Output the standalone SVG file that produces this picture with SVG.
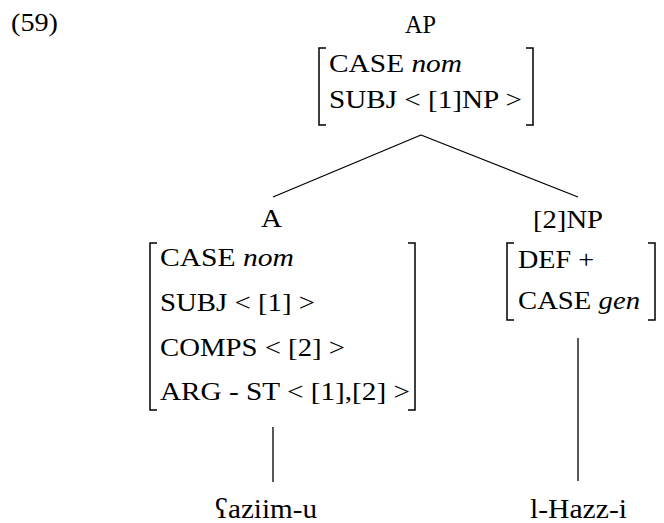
<svg xmlns="http://www.w3.org/2000/svg" width="664" height="523" viewBox="0 0 664 523">
<style>
text{font-family:"Liberation Serif","Times New Roman",serif;font-size:26px;fill:#000}
.it{font-style:italic}
.wd{font-size:28px}
.br{fill:none;stroke:#000;stroke-width:1.5}
.ln{stroke:#000;stroke-width:1.3;fill:none}
</style>
<text x="11" y="31" textLength="47" lengthAdjust="spacingAndGlyphs">(59)</text>
<g id="AP">
<text x="405" y="33" textLength="31" lengthAdjust="spacingAndGlyphs">AP</text>
<path class="br" d="M326,48 H319 V125 H326 M526,48 H533 V125 H526"/>
<text x="329" y="72" textLength="133" lengthAdjust="spacingAndGlyphs">CASE <tspan class="it">nom</tspan></text>
<text x="329" y="108" textLength="193" lengthAdjust="spacingAndGlyphs">SUBJ &lt; [1]NP &gt;</text>
</g>
<g id="A">
<text x="261" y="227" textLength="21" lengthAdjust="spacingAndGlyphs">A</text>
<path class="br" d="M157,243 H150 V410 H157 M408,243 H415 V410 H408"/>
<text x="160" y="266" textLength="134" lengthAdjust="spacingAndGlyphs">CASE <tspan class="it">nom</tspan></text>
<text x="160" y="311" textLength="155" lengthAdjust="spacingAndGlyphs">SUBJ &lt; [1] &gt;</text>
<text x="160" y="356" textLength="185" lengthAdjust="spacingAndGlyphs">COMPS &lt; [2] &gt;</text>
<text x="160" y="400" textLength="250" lengthAdjust="spacingAndGlyphs">ARG - ST &lt; [1],[2] &gt;</text>
</g>
<g id="NP">
<text x="533" y="228" textLength="70" lengthAdjust="spacingAndGlyphs">[2]NP</text>
<path class="br" d="M514,243 H507 V320 H514 M648,243 H655 V320 H648"/>
<text x="518" y="268" textLength="76" lengthAdjust="spacingAndGlyphs">DEF +</text>
<text x="518" y="309" textLength="122" lengthAdjust="spacingAndGlyphs">CASE <tspan class="it">gen</tspan></text>
</g>
<g id="w1"><text class="wd" x="215" y="518" textLength="102" lengthAdjust="spacingAndGlyphs">ʕaziim-u</text></g>
<g id="w2"><text class="wd" x="530" y="518" textLength="97" lengthAdjust="spacingAndGlyphs">l-Hazz-i</text></g>
<g id="connectors">
<path class="ln" d="M421,135 L273,197 M421,135 L578,197 M273,427 V482 M578,338 V481"/>
</g>
</svg>
